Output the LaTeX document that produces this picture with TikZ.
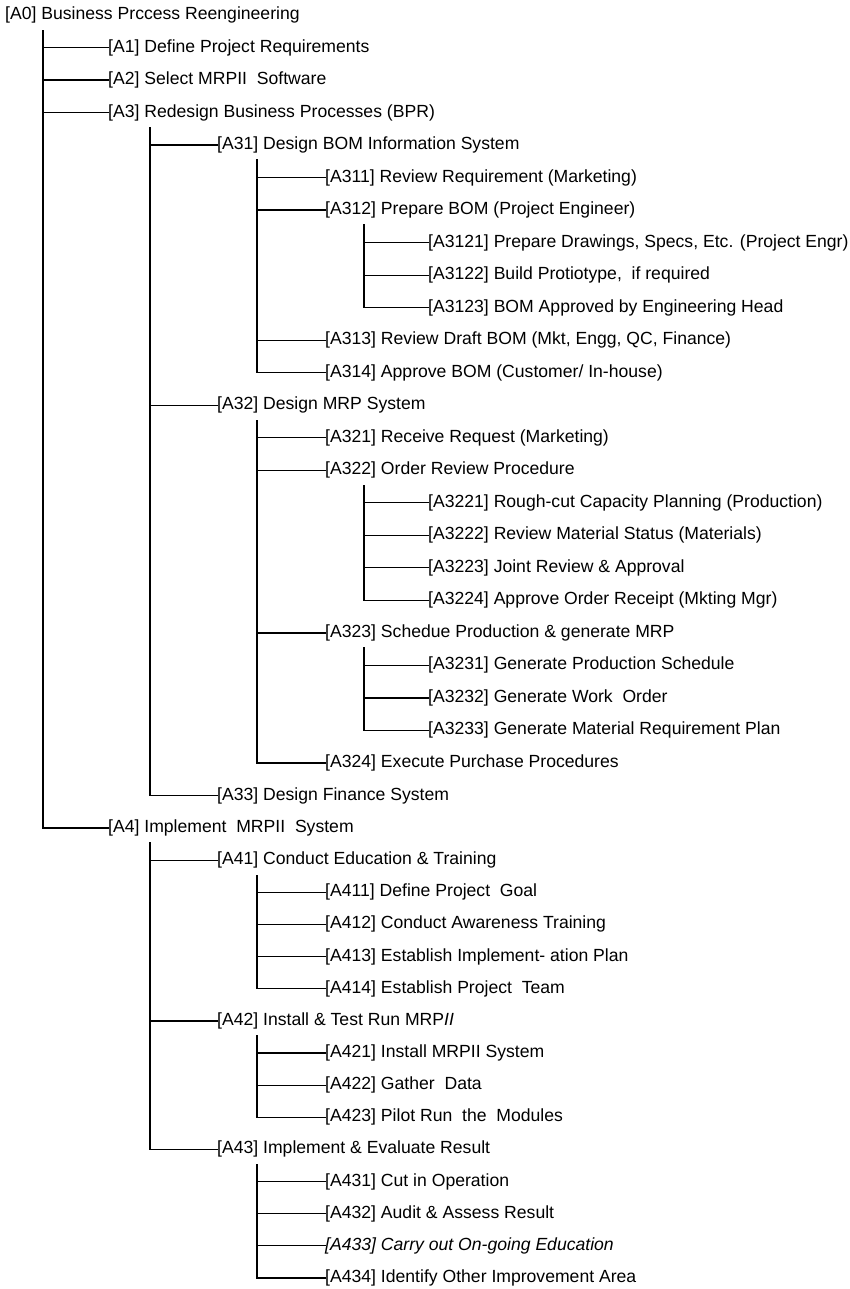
\documentclass[tikz,border=0pt]{standalone}
\usepackage{fontspec}
\setmainfont{Liberation Sans}
\begin{document}
\begin{tikzpicture}[x=1pt,y=-1pt,
  item/.style={anchor=west, inner sep=0pt, font=\fontsize{17.6}{20}\selectfont},
  link/.style={line width=1.2pt, line cap=rect}]
\useasboundingbox (0,0) rectangle (850,1289);

% activity nodes, one per row
\node[item] (A0)    at (5,15)      {[A0] Business Prccess Reengineering};
\node[item] (A1)    at (108,47.5)  {[A1] Define Project Requirements};
\node[item] (A2)    at (108,80.0)  {[A2] Select MRPII~ Software};
\node[item] (A3)    at (108,112.6) {[A3] Redesign Business Processes (BPR)};
\node[item] (A31)   at (217,145.1) {[A31] Design BOM Information System};
\node[item] (A311)  at (325,177.6) {[A311] Review Requirement (Marketing)};
\node[item] (A312)  at (325,210.1) {[A312] Prepare BOM (Project Engineer)};
\node[item] (A3121) at (428,242.6) {[A3121] Prepare Drawings, Specs, Etc. (Project Engr)};
\node[item] (A3122) at (428,275.2) {[A3122] Build Protiotype,~ if required};
\node[item] (A3123) at (428,307.7) {[A3123] BOM Approved by Engineering Head};
\node[item] (A313)  at (325,340.2) {[A313] Review Draft BOM (Mkt, Engg, QC, Finance)};
\node[item] (A314)  at (325,372.7) {[A314] Approve BOM (Customer/ In-house)};
\node[item] (A32)   at (217,405.2) {[A32] Design MRP System};
\node[item] (A321)  at (325,437.8) {[A321] Receive Request (Marketing)};
\node[item] (A322)  at (325,470.3) {[A322] Order Review Procedure};
\node[item] (A3221) at (428,502.8) {[A3221] Rough-cut Capacity Planning (Production)};
\node[item] (A3222) at (428,535.3) {[A3222] Review Material Status (Materials)};
\node[item] (A3223) at (428,567.8) {[A3223] Joint Review \& Approval};
\node[item] (A3224) at (428,600.4) {[A3224] Approve Order Receipt (Mkting Mgr)};
\node[item] (A323)  at (325,632.9) {[A323] Schedue Production \& generate MRP};
\node[item] (A3231) at (428,665.4) {[A3231] Generate Production Schedule};
\node[item] (A3232) at (428,697.9) {[A3232] Generate Work~ Order};
\node[item] (A3233) at (428,730.4) {[A3233] Generate Material Requirement Plan};
\node[item] (A324)  at (325,763.0) {[A324] Execute Purchase Procedures};
\node[item] (A33)   at (217,795.5) {[A33] Design Finance System};
\node[item] (A4)    at (108,828)   {[A4] Implement~ MRPII~ System};
\node[item] (A41)   at (217,860.1) {[A41] Conduct Education \& Training};
\node[item] (A411)  at (325,892.3) {[A411] Define Project~ Goal};
\node[item] (A412)  at (325,924.4) {[A412] Conduct Awareness Training};
\node[item] (A413)  at (325,956.6) {[A413] Establish Implement- ation Plan};
\node[item] (A414)  at (325,988.7) {[A414] Establish Project~ Team};
\node[item] (A42)   at (217,1020.9){[A42] Install \& Test Run MRP\textit{II}};
\node[item] (A421)  at (325,1053.0){[A421] Install MRPII System};
\node[item] (A422)  at (325,1085.1){[A422] Gather~ Data};
\node[item] (A423)  at (325,1117.3){[A423] Pilot Run~ the~ Modules};
\node[item] (A43)   at (217,1149.4){[A43] Implement \& Evaluate Result};
\node[item] (A431)  at (325,1181.5){[A431] Cut in Operation};
\node[item] (A432)  at (325,1213.7){[A432] Audit \& Assess Result};
\node[item] (A433)  at (325,1245.8){\textit{[A433] Carry out On-going Education}};
\node[item] (A434)  at (325,1278.0){[A434] Identify Other Improvement Area};

% tops of the trunk lines under each parent
\coordinate (A0t)   at (43,31);
\coordinate (A3t)   at (150,127.6);
\coordinate (A31t)  at (257,160.1);
\coordinate (A312t) at (364,225.1);
\coordinate (A32t)  at (257,420.2);
\coordinate (A322t) at (364,485.3);
\coordinate (A323t) at (364,647.9);
\coordinate (A4t)   at (150,843);
\coordinate (A41t)  at (257,875.1);
\coordinate (A42t)  at (257,1035.9);
\coordinate (A43t)  at (257,1164.4);

% trunk-and-branch connectors
\foreach \c in {A1,A2,A3,A4}          \draw[link] (A0t)   |- (\c.west);
\foreach \c in {A31,A32,A33}          \draw[link] (A3t)   |- (\c.west);
\foreach \c in {A311,A312,A313,A314}  \draw[link] (A31t)  |- (\c.west);
\foreach \c in {A3121,A3122,A3123}    \draw[link] (A312t) |- (\c.west);
\foreach \c in {A321,A322,A323,A324}  \draw[link] (A32t)  |- (\c.west);
\foreach \c in {A3221,A3222,A3223,A3224} \draw[link] (A322t) |- (\c.west);
\foreach \c in {A3231,A3232,A3233}    \draw[link] (A323t) |- (\c.west);
\foreach \c in {A41,A42,A43}          \draw[link] (A4t)   |- (\c.west);
\foreach \c in {A411,A412,A413,A414}  \draw[link] (A41t)  |- (\c.west);
\foreach \c in {A421,A422,A423}       \draw[link] (A42t)  |- (\c.west);
\foreach \c in {A431,A432,A433,A434}  \draw[link] (A43t)  |- (\c.west);
\end{tikzpicture}
\end{document}
